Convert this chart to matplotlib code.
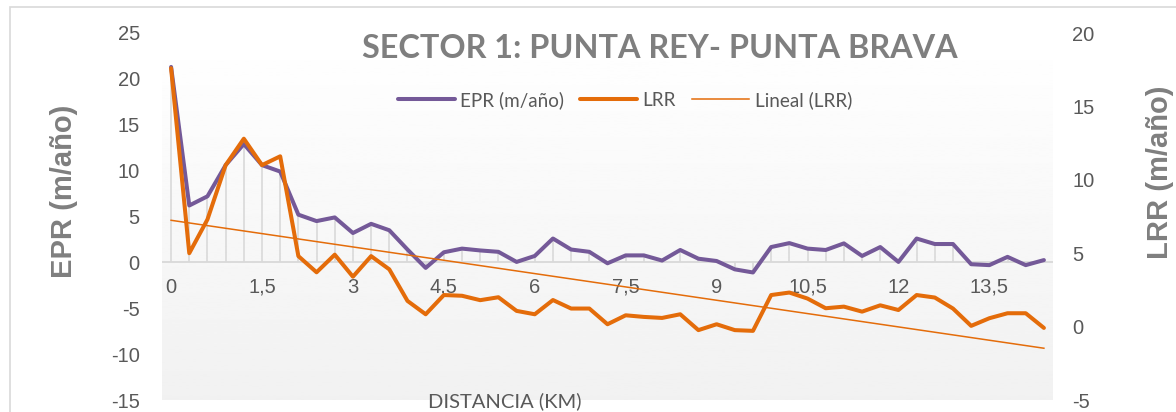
import numpy as np
import matplotlib
matplotlib.use("Agg")
import matplotlib.pyplot as plt
from matplotlib.patches import Rectangle

plt.rcParams["axes.unicode_minus"] = False

# distance along the coast (km), one point every 300 m
km = [0.0, 0.3, 0.6, 0.9, 1.2, 1.5, 1.8, 2.1, 2.4, 2.7,
      3.0, 3.3, 3.6, 3.9, 4.2, 4.5, 4.8, 5.1, 5.4, 5.7,
      6.0, 6.3, 6.6, 6.9, 7.2, 7.5, 7.8, 8.1, 8.4, 8.7,
      9.0, 9.3, 9.6, 9.9, 10.2, 10.5, 10.8, 11.1, 11.4, 11.7,
      12.0, 12.3, 12.6, 12.9, 13.2, 13.5, 13.8, 14.1, 14.4]

# End Point Rate (m/año), left axis
epr = [21.3, 6.2, 7.2, 10.6, 12.9, 10.6, 9.9, 5.2, 4.5, 4.9,
       3.2, 4.2, 3.5, 1.4, -0.6, 1.1, 1.5, 1.3, 1.15, 0.05,
       0.7, 2.6, 1.4, 1.15, -0.1, 0.76, 0.76, 0.2, 1.35, 0.4,
       0.15, -0.76, -1.1, 1.67, 2.1, 1.5, 1.35, 2.07, 0.7, 1.67,
       0.05, 2.6, 2.0, 2.0, -0.2, -0.3, 0.6, -0.3, 0.25]

# Linear Regression Rate (m/año), right axis
lrr = [17.6, 5.0, 7.3, 11.0, 12.8, 11.0, 11.6, 4.8, 3.7, 4.9,
       3.4, 4.8, 3.9, 1.75, 0.84, 2.15, 2.1, 1.8, 2.0, 1.07,
       0.84, 1.81, 1.23, 1.23, 0.16, 0.77, 0.66, 0.59, 0.84, -0.24,
       0.16, -0.24, -0.29, 2.15, 2.32, 1.91, 1.25, 1.36, 1.02, 1.45,
       1.13, 2.15, 1.98, 1.23, 0.05, 0.57, 0.91, 0.91, -0.09]

def fmt_km(v):
    s = ("%g" % v).replace(".", ",")
    return s

purple = "#745998"
orange = "#E46C0A"
grey_txt = "#595959"
grey_lbl = "#7F7F7F"
arial = "Liberation Sans"
calibri = "Lato"

fig = plt.figure(figsize=(11.76, 4.12), dpi=100)
fig.patch.set_facecolor("white")

W, H = 1176.0, 412.0
ax = fig.add_axes([162 / W, 1 - 400 / H, (1053 - 162) / W, (400 - 33) / H])
ax2 = ax.twinx()

idx = np.arange(len(km))

# gradient background of the plot area
grad = np.linspace(1.0, 0.945, 256).reshape(-1, 1)
ax.imshow(grad, cmap="gray", vmin=0, vmax=1, extent=[0, 1, 0, 1],
          transform=ax.transAxes, aspect="auto", zorder=0)
ax.patch.set_visible(False)

ax.set_xlim(-0.5, len(km) - 0.5)
ax.set_ylim(-15, 25)
ax2.set_ylim(-5, 20)

# zero line and drop lines
ax.axhline(0, color="#D9D9D9", lw=1.3, zorder=1)
ax.vlines(idx, 0, epr, color="#D9D9D9", lw=1.2, zorder=1)

l1, = ax.plot(idx, epr, color=purple, lw=2.9, solid_capstyle="round",
              solid_joinstyle="round", zorder=3, label="EPR (m/año)")
l2, = ax2.plot(idx, lrr, color=orange, lw=2.9, solid_capstyle="round",
               solid_joinstyle="round", zorder=3, label="LRR")
coef = np.polyfit(idx, lrr, 1)
l3, = ax2.plot(idx, np.polyval(coef, idx), color=orange, lw=1.1,
               zorder=4, label="Lineal (LRR)")

for a in (ax, ax2):
    for s in a.spines.values():
        s.set_visible(False)

ax.spines["bottom"].set_position(("data", 0))
ax.set_xticks(idx[::5])
ax.set_xticklabels([fmt_km(v) for v in km[::5]])
ax.tick_params(axis="x", length=0, pad=11, labelsize=14.5, labelcolor=grey_txt)
ax.set_yticks(np.arange(-15, 26, 5))
ax.tick_params(axis="y", length=0, pad=16, labelsize=14.5, labelcolor=grey_txt)
ax2.set_yticks(np.arange(-5, 21, 5))
ax2.tick_params(axis="y", length=0, pad=14, labelsize=14.5, labelcolor=grey_txt)
for t in ax.get_xticklabels() + ax.get_yticklabels() + ax2.get_yticklabels():
    t.set_fontfamily(arial)

fig.text(64 / W, 1 - 191 / H, "EPR (m/año)", rotation=90, ha="center",
         va="center", fontsize=21, fontweight="bold", color=grey_lbl,
         family=arial)
fig.text(1160 / W, 1 - 172 / H, "LRR (m/año)", rotation=90, ha="center",
         va="center", fontsize=21, fontweight="bold", color=grey_lbl,
         family=arial)

fig.text(660 / W, 1 - 48 / H, "SECTOR 1: PUNTA REY- PUNTA BRAVA",
         ha="center", va="center", fontsize=23.3, fontweight="bold",
         color=grey_lbl, family=calibri)
fig.text(505 / W, 1 - 401 / H, "DISTANCIA (KM)", ha="center", va="center",
         fontsize=14.5, color=grey_txt, family=calibri)

leg = fig.legend(handles=[l1, l2, l3], loc="center",
                 bbox_to_anchor=(625 / W, 1 - 100 / H), ncol=3, frameon=False,
                 handlelength=3.0, handletextpad=0.3, columnspacing=0.85,
                 prop={"family": calibri, "size": 13.6})
for t in leg.get_texts():
    t.set_color(grey_txt)

# outer chart border
fig.patches.append(Rectangle((10 / W, -0.1), 1.2, 1.1 - 7 / H,
                             transform=fig.transFigure, fill=False,
                             edgecolor="#D9D9D9", lw=1.2))

fig.savefig("out.png", dpi=100)
